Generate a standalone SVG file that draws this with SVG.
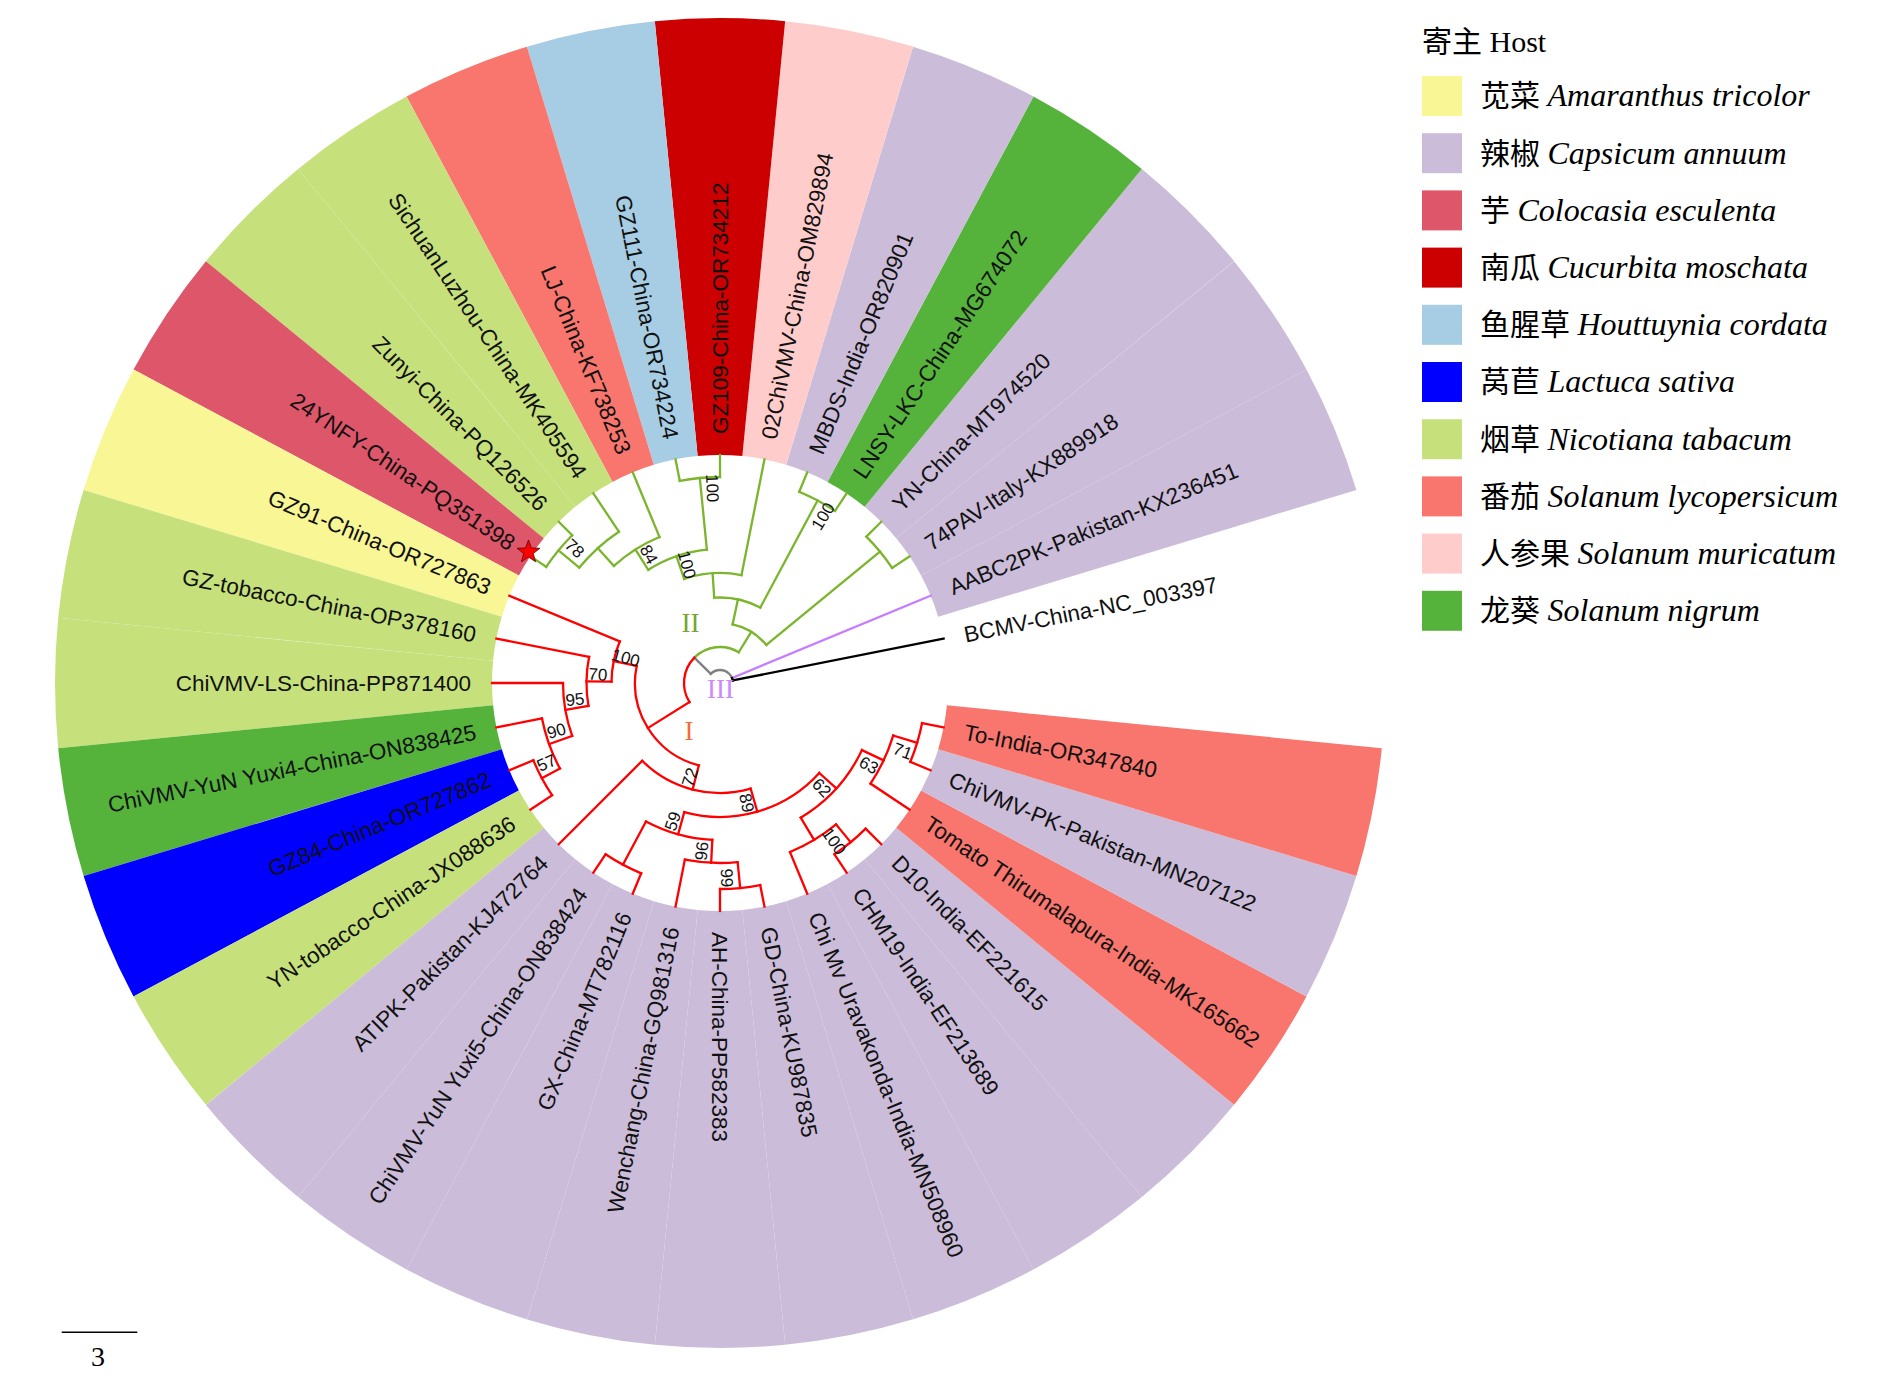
<svg xmlns="http://www.w3.org/2000/svg" width="1890" height="1382" viewBox="0 0 1890 1382">
<style>
.br{fill:none;stroke-width:2.3;stroke-linecap:square}
.g{stroke:#7AB52C}
.r{stroke:#FF0000}
.gy{stroke:#808080}
.pu{stroke:#C77CFF}
.bk{stroke:#000000}
.w{fill:none;stroke-width:437}
.lab{font-family:"Liberation Sans",Arial,sans-serif;font-size:22.5px;fill:#111}
.e{text-anchor:end}
.bs{font-family:"Liberation Sans",Arial,sans-serif;font-size:17px;fill:#111;text-anchor:middle}
.lg{font-family:"Liberation Serif","Noto Sans CJK SC",serif;font-size:30px;fill:#000}
.it{font-style:italic;font-size:32px}
.cl{font-family:"Liberation Serif",serif;font-size:27px;text-anchor:middle}
.cY{stroke:#F8F695}.cL{stroke:#CBBCD9}.cR{stroke:#DE566A}.cD{stroke:#CC0000}.cB{stroke:#A6CDE3}
.cU{stroke:#0000FF}.cG{stroke:#C6E17C}.cS{stroke:#F8766D}.cP{stroke:#FFCCCC}.cN{stroke:#55B33B}
</style>
<rect width="1890" height="1382" fill="#FFFFFF"/>

<g id="leaves" transform="translate(720,683)">
<g id="leaf-BCMV"><text class="lab" dy="0.36em" transform="rotate(348.75) translate(249,0)">BCMV-China-NC_003397</text></g>
<g id="leaf-AABC2PK"><circle class="w cL" r="446.5" pathLength="360" stroke-dasharray="11.25 348.75" transform="rotate(331.875)"/><text class="lab" dy="0.36em" transform="rotate(337.5) translate(249,0)">AABC2PK-Pakistan-KX236451</text></g>
<g id="leaf-74PAV"><circle class="w cL" r="446.5" pathLength="360" stroke-dasharray="11.25 348.75" transform="rotate(320.625)"/><text class="lab" dy="0.36em" transform="rotate(326.25) translate(249,0)">74PAV-Italy-KX889918</text></g>
<g id="leaf-YN"><circle class="w cL" r="446.5" pathLength="360" stroke-dasharray="11.25 348.75" transform="rotate(309.375)"/><text class="lab" dy="0.36em" transform="rotate(315) translate(249,0)">YN-China-MT974520</text></g>
<g id="leaf-LNSY"><circle class="w cN" r="446.5" pathLength="360" stroke-dasharray="11.25 348.75" transform="rotate(298.125)"/><text class="lab" dy="0.36em" transform="rotate(303.75) translate(249,0)">LNSY-LKC-China-MG674072</text></g>
<g id="leaf-MBDS"><circle class="w cL" r="446.5" pathLength="360" stroke-dasharray="11.25 348.75" transform="rotate(286.875)"/><text class="lab" dy="0.36em" transform="rotate(292.5) translate(249,0)">MBDS-India-OR820901</text></g>
<g id="leaf-02ChiVMV"><circle class="w cP" r="446.5" pathLength="360" stroke-dasharray="11.25 348.75" transform="rotate(275.625)"/><text class="lab" dy="0.36em" transform="rotate(281.25) translate(249,0)">02ChiVMV-China-OM829894</text></g>
<g id="leaf-GZ109"><circle class="w cD" r="446.5" pathLength="360" stroke-dasharray="11.25 348.75" transform="rotate(264.375)"/><text class="lab" dy="0.36em" transform="rotate(270) translate(249,0)">GZ109-China-OR734212</text></g>
<g id="leaf-GZ111"><circle class="w cB" r="446.5" pathLength="360" stroke-dasharray="11.25 348.75" transform="rotate(253.125)"/><text class="lab e" dy="0.36em" transform="rotate(258.75) translate(249,0) rotate(180)">GZ111-China-OR734224</text></g>
<g id="leaf-LJ"><circle class="w cS" r="446.5" pathLength="360" stroke-dasharray="11.25 348.75" transform="rotate(241.875)"/><text class="lab e" dy="0.36em" transform="rotate(247.5) translate(249,0) rotate(180)">LJ-China-KF738253</text></g>
<g id="leaf-SichuanLuzhou"><circle class="w cG" r="446.5" pathLength="360" stroke-dasharray="11.25 348.75" transform="rotate(230.625)"/><text class="lab e" dy="0.36em" transform="rotate(236.25) translate(249,0) rotate(180)">SichuanLuzhou-China-MK405594</text></g>
<g id="leaf-Zunyi"><circle class="w cG" r="446.5" pathLength="360" stroke-dasharray="11.25 348.75" transform="rotate(219.375)"/><text class="lab e" dy="0.36em" transform="rotate(225) translate(249,0) rotate(180)">Zunyi-China-PQ126526</text></g>
<g id="leaf-24YNFY"><circle class="w cR" r="446.5" pathLength="360" stroke-dasharray="11.25 348.75" transform="rotate(208.125)"/><text class="lab e" dy="0.36em" transform="rotate(213.75) translate(249,0) rotate(180)">24YNFY-China-PQ351398</text></g>
<g id="leaf-GZ91"><circle class="w cY" r="446.5" pathLength="360" stroke-dasharray="11.25 348.75" transform="rotate(196.875)"/><text class="lab e" dy="0.36em" transform="rotate(202.5) translate(249,0) rotate(180)">GZ91-China-OR727863</text></g>
<g id="leaf-GZ-tobacco"><circle class="w cG" r="446.5" pathLength="360" stroke-dasharray="11.25 348.75" transform="rotate(185.625)"/><text class="lab e" dy="0.36em" transform="rotate(191.25) translate(249,0) rotate(180)">GZ-tobacco-China-OP378160</text></g>
<g id="leaf-ChiVMV-LS"><circle class="w cG" r="446.5" pathLength="360" stroke-dasharray="11.25 348.75" transform="rotate(174.375)"/><text class="lab e" dy="0.36em" transform="rotate(180) translate(249,0) rotate(180)">ChiVMV-LS-China-PP871400</text></g>
<g id="leaf-Yuxi4"><circle class="w cN" r="446.5" pathLength="360" stroke-dasharray="11.25 348.75" transform="rotate(163.125)"/><text class="lab e" dy="0.36em" transform="rotate(168.75) translate(249,0) rotate(180)">ChiVMV-YuN Yuxi4-China-ON838425</text></g>
<g id="leaf-GZ84"><circle class="w cU" r="446.5" pathLength="360" stroke-dasharray="11.25 348.75" transform="rotate(151.875)"/><text class="lab e" dy="0.36em" transform="rotate(157.5) translate(249,0) rotate(180)">GZ84-China-OR727862</text></g>
<g id="leaf-YN-tobacco"><circle class="w cG" r="446.5" pathLength="360" stroke-dasharray="11.25 348.75" transform="rotate(140.625)"/><text class="lab e" dy="0.36em" transform="rotate(146.25) translate(249,0) rotate(180)">YN-tobacco-China-JX088636</text></g>
<g id="leaf-ATIPK"><circle class="w cL" r="446.5" pathLength="360" stroke-dasharray="11.25 348.75" transform="rotate(129.375)"/><text class="lab e" dy="0.36em" transform="rotate(135) translate(249,0) rotate(180)">ATIPK-Pakistan-KJ472764</text></g>
<g id="leaf-Yuxi5"><circle class="w cL" r="446.5" pathLength="360" stroke-dasharray="11.25 348.75" transform="rotate(118.125)"/><text class="lab e" dy="0.36em" transform="rotate(123.75) translate(249,0) rotate(180)">ChiVMV-YuN Yuxi5-China-ON838424</text></g>
<g id="leaf-GX"><circle class="w cL" r="446.5" pathLength="360" stroke-dasharray="11.25 348.75" transform="rotate(106.875)"/><text class="lab e" dy="0.36em" transform="rotate(112.5) translate(249,0) rotate(180)">GX-China-MT782116</text></g>
<g id="leaf-Wenchang"><circle class="w cL" r="446.5" pathLength="360" stroke-dasharray="11.25 348.75" transform="rotate(95.625)"/><text class="lab e" dy="0.36em" transform="rotate(101.25) translate(249,0) rotate(180)">Wenchang-China-GQ981316</text></g>
<g id="leaf-AH"><circle class="w cL" r="446.5" pathLength="360" stroke-dasharray="11.25 348.75" transform="rotate(84.375)"/><text class="lab" dy="0.36em" transform="rotate(90) translate(249,0)">AH-China-PP582383</text></g>
<g id="leaf-GD"><circle class="w cL" r="446.5" pathLength="360" stroke-dasharray="11.25 348.75" transform="rotate(73.125)"/><text class="lab" dy="0.36em" transform="rotate(78.75) translate(249,0)">GD-China-KU987835</text></g>
<g id="leaf-Uravakonda"><circle class="w cL" r="446.5" pathLength="360" stroke-dasharray="11.25 348.75" transform="rotate(61.875)"/><text class="lab" dy="0.36em" transform="rotate(67.5) translate(249,0)">Chi Mv Uravakonda-India-MN508960</text></g>
<g id="leaf-CHM19"><circle class="w cL" r="446.5" pathLength="360" stroke-dasharray="11.25 348.75" transform="rotate(50.625)"/><text class="lab" dy="0.36em" transform="rotate(56.25) translate(249,0)">CHM19-India-EF213689</text></g>
<g id="leaf-D10"><circle class="w cL" r="446.5" pathLength="360" stroke-dasharray="11.25 348.75" transform="rotate(39.375)"/><text class="lab" dy="0.36em" transform="rotate(45) translate(249,0)">D10-India-EF221615</text></g>
<g id="leaf-TomatoT"><circle class="w cS" r="446.5" pathLength="360" stroke-dasharray="11.25 348.75" transform="rotate(28.125)"/><text class="lab" dy="0.36em" transform="rotate(33.75) translate(249,0)">Tomato Thirumalapura-India-MK165662</text></g>
<g id="leaf-ChiVMV-PK"><circle class="w cL" r="446.5" pathLength="360" stroke-dasharray="11.25 348.75" transform="rotate(16.875)"/><text class="lab" dy="0.36em" transform="rotate(22.5) translate(249,0)">ChiVMV-PK-Pakistan-MN207122</text></g>
<g id="leaf-To-India"><circle class="w cS" r="446.5" pathLength="360" stroke-dasharray="11.25 348.75" transform="rotate(5.625)"/><text class="lab" dy="0.36em" transform="rotate(11.25) translate(249,0)">To-India-OR347840</text></g>
</g>

<g id="connectors" transform="translate(720,683)">
<line class="br gy" x1="13" x2="36" transform="rotate(224.69)"/>
<circle class="br gy" r="13" pathLength="360" stroke-dasharray="112.81 360" transform="rotate(224.69)"/>
<line class="br pu" x1="13" x2="228" transform="rotate(337.5)"/>
<circle class="br bk" r="13" pathLength="360" stroke-dasharray="11.25 360" transform="rotate(337.5)"/>
<line class="br bk" x1="13" x2="228" transform="rotate(348.75)"/>
<circle class="br g" r="36" pathLength="360" stroke-dasharray="76.687 360" transform="rotate(224.69)"/>
<line class="br g" x1="36" x2="60" transform="rotate(301.377)"/>
<circle class="br g" r="60" pathLength="360" stroke-dasharray="38.496 360" transform="rotate(282.129)"/>
<line class="br g" x1="60" x2="207" transform="rotate(320.625)"/>
<circle class="br g" r="207" pathLength="360" stroke-dasharray="11.25 360" transform="rotate(315)"/>
<line class="br g" x1="207" x2="228" transform="rotate(326.25)"/>
<line class="br g" x1="207" x2="228" transform="rotate(315)"/>
<line class="br g" x1="60" x2="85.5" transform="rotate(282.129)"/>
<circle class="br g" r="85.5" pathLength="360" stroke-dasharray="31.992 360" transform="rotate(266.133)"/>
<line class="br g" x1="85.5" x2="207" transform="rotate(298.125)"/>
<circle class="br g" r="207" pathLength="360" stroke-dasharray="11.25 360" transform="rotate(292.5)"/>
<line class="br g" x1="207" x2="228" transform="rotate(303.75)"/>
<line class="br g" x1="207" x2="228" transform="rotate(292.5)"/>
<line class="br g" x1="85.5" x2="110" transform="rotate(266.133)"/>
<circle class="br g" r="110" pathLength="360" stroke-dasharray="30.234 360" transform="rotate(251.016)"/>
<line class="br g" x1="110" x2="228" transform="rotate(281.25)"/>
<line class="br g" x1="110" x2="134" transform="rotate(251.016)"/>
<circle class="br g" r="134" pathLength="360" stroke-dasharray="26.719 360" transform="rotate(237.656)"/>
<line class="br g" x1="134" x2="206" transform="rotate(264.375)"/>
<circle class="br g" r="206" pathLength="360" stroke-dasharray="11.25 360" transform="rotate(258.75)"/>
<line class="br g" x1="206" x2="228" transform="rotate(270)"/>
<line class="br g" x1="206" x2="228" transform="rotate(258.75)"/>
<line class="br g" x1="134" x2="158" transform="rotate(237.656)"/>
<circle class="br g" r="158" pathLength="360" stroke-dasharray="19.688 360" transform="rotate(227.813)"/>
<line class="br g" x1="158" x2="228" transform="rotate(247.5)"/>
<line class="br g" x1="158" x2="182" transform="rotate(227.813)"/>
<circle class="br g" r="182" pathLength="360" stroke-dasharray="16.875 360" transform="rotate(219.375)"/>
<line class="br g" x1="182" x2="228" transform="rotate(236.25)"/>
<line class="br g" x1="182" x2="209" transform="rotate(219.375)"/>
<circle class="br g" r="209" pathLength="360" stroke-dasharray="11.25 360" transform="rotate(213.75)"/>
<line class="br g" x1="209" x2="228" transform="rotate(225)"/>
<line class="br g" x1="209" x2="228" transform="rotate(213.75)"/>
<circle class="br r" r="36" pathLength="360" stroke-dasharray="76.682 360" transform="rotate(148.008)"/>
<line class="br r" x1="36" x2="85" transform="rotate(148.008)"/>
<circle class="br r" r="85" pathLength="360" stroke-dasharray="87.188 360" transform="rotate(104.414)"/>
<line class="br r" x1="85" x2="108.5" transform="rotate(191.602)"/>
<circle class="br r" r="108.5" pathLength="360" stroke-dasharray="21.797 360" transform="rotate(180.703)"/>
<line class="br r" x1="108.5" x2="228" transform="rotate(202.5)"/>
<line class="br r" x1="108.5" x2="133.5" transform="rotate(180.703)"/>
<circle class="br r" r="133.5" pathLength="360" stroke-dasharray="21.094 360" transform="rotate(170.156)"/>
<line class="br r" x1="133.5" x2="228" transform="rotate(191.25)"/>
<line class="br r" x1="133.5" x2="157" transform="rotate(170.156)"/>
<circle class="br r" r="157" pathLength="360" stroke-dasharray="19.688 360" transform="rotate(160.313)"/>
<line class="br r" x1="157" x2="228" transform="rotate(180)"/>
<line class="br r" x1="157" x2="181.5" transform="rotate(160.313)"/>
<circle class="br r" r="181.5" pathLength="360" stroke-dasharray="16.875 360" transform="rotate(151.875)"/>
<line class="br r" x1="181.5" x2="228" transform="rotate(168.75)"/>
<line class="br r" x1="181.5" x2="202" transform="rotate(151.875)"/>
<circle class="br r" r="202" pathLength="360" stroke-dasharray="11.25 360" transform="rotate(146.25)"/>
<line class="br r" x1="202" x2="228" transform="rotate(157.5)"/>
<line class="br r" x1="202" x2="228" transform="rotate(146.25)"/>
<line class="br r" x1="85" x2="110" transform="rotate(104.414)"/>
<circle class="br r" r="110" pathLength="360" stroke-dasharray="61.172 360" transform="rotate(73.828)"/>
<line class="br r" x1="110" x2="228" transform="rotate(135)"/>
<line class="br r" x1="110" x2="134" transform="rotate(73.828)"/>
<circle class="br r" r="134" pathLength="360" stroke-dasharray="63.281 360" transform="rotate(42.188)"/>
<line class="br r" x1="134" x2="157" transform="rotate(105.469)"/>
<circle class="br r" r="157" pathLength="360" stroke-dasharray="25.313 360" transform="rotate(92.813)"/>
<line class="br r" x1="157" x2="206" transform="rotate(118.125)"/>
<circle class="br r" r="206" pathLength="360" stroke-dasharray="11.25 360" transform="rotate(112.5)"/>
<line class="br r" x1="206" x2="228" transform="rotate(123.75)"/>
<line class="br r" x1="206" x2="228" transform="rotate(112.5)"/>
<line class="br r" x1="157" x2="180" transform="rotate(92.813)"/>
<circle class="br r" r="180" pathLength="360" stroke-dasharray="16.875 360" transform="rotate(84.375)"/>
<line class="br r" x1="180" x2="228" transform="rotate(101.25)"/>
<line class="br r" x1="180" x2="206" transform="rotate(84.375)"/>
<circle class="br r" r="206" pathLength="360" stroke-dasharray="11.25 360" transform="rotate(78.75)"/>
<line class="br r" x1="206" x2="228" transform="rotate(90)"/>
<line class="br r" x1="206" x2="228" transform="rotate(78.75)"/>
<line class="br r" x1="134" x2="157" transform="rotate(42.188)"/>
<circle class="br r" r="157" pathLength="360" stroke-dasharray="33.75 360" transform="rotate(25.313)"/>
<line class="br r" x1="157" x2="183" transform="rotate(59.063)"/>
<circle class="br r" r="183" pathLength="360" stroke-dasharray="16.875 360" transform="rotate(50.625)"/>
<line class="br r" x1="183" x2="228" transform="rotate(67.5)"/>
<line class="br r" x1="183" x2="206" transform="rotate(50.625)"/>
<circle class="br r" r="206" pathLength="360" stroke-dasharray="11.25 360" transform="rotate(45)"/>
<line class="br r" x1="206" x2="228" transform="rotate(56.25)"/>
<line class="br r" x1="206" x2="228" transform="rotate(45)"/>
<line class="br r" x1="157" x2="181" transform="rotate(25.313)"/>
<circle class="br r" r="181" pathLength="360" stroke-dasharray="16.875 360" transform="rotate(16.875)"/>
<line class="br r" x1="181" x2="228" transform="rotate(33.75)"/>
<line class="br r" x1="181" x2="206" transform="rotate(16.875)"/>
<circle class="br r" r="206" pathLength="360" stroke-dasharray="11.25 360" transform="rotate(11.25)"/>
<line class="br r" x1="206" x2="228" transform="rotate(22.5)"/>
<line class="br r" x1="206" x2="228" transform="rotate(11.25)"/>
</g>

<g id="internal-nodes" transform="translate(720,683)">
<g id="node-GZ"><text class="bs" dy="0.36em" transform="rotate(267.875) translate(195,0) rotate(180)">100</text></g>
<g id="node-Z24"><text class="bs" dy="0.36em" transform="rotate(222.875) translate(198,0) rotate(180)">78</text></g>
<g id="node-LJn"><text class="bs" dy="0.36em" transform="rotate(241.156) translate(147,0) rotate(180)">84</text></g>
<g id="node-Nb"><text class="bs" dy="0.36em" transform="rotate(254.516) translate(123,0) rotate(180)">100</text></g>
<g id="node-LM"><text class="bs" dy="0.36em" transform="rotate(301.625) translate(196,0)">100</text></g>
<g id="node-N100"><text class="bs" dy="0.36em" transform="rotate(195.102) translate(97.5,0) rotate(180)">100</text></g>
<g id="node-N70"><text class="bs" dy="0.36em" transform="rotate(184.203) translate(122.5,0) rotate(180)">70</text></g>
<g id="node-N95"><text class="bs" dy="0.36em" transform="rotate(173.656) translate(146,0) rotate(180)">95</text></g>
<g id="node-N90"><text class="bs" dy="0.36em" transform="rotate(163.813) translate(170.5,0) rotate(180)">90</text></g>
<g id="node-N57"><text class="bs" dy="0.36em" transform="rotate(155.375) translate(191,0) rotate(180)">57</text></g>
<g id="node-N72"><text class="bs" dy="0.36em" transform="rotate(107.914) translate(99,0) rotate(180)">72</text></g>
<g id="node-N89"><text class="bs" dy="0.36em" transform="rotate(77.328) translate(123,0)">89</text></g>
<g id="node-N59"><text class="bs" dy="0.36em" transform="rotate(108.969) translate(146,0) rotate(180)">59</text></g>
<g id="node-N96"><text class="bs" dy="0.36em" transform="rotate(96.313) translate(169,0) rotate(180)">96</text></g>
<g id="node-N99"><text class="bs" dy="0.36em" transform="rotate(87.875) translate(195,0)">99</text></g>
<g id="node-N62"><text class="bs" dy="0.36em" transform="rotate(45.688) translate(146,0)">62</text></g>
<g id="node-N63"><text class="bs" dy="0.36em" transform="rotate(28.813) translate(170,0)">63</text></g>
<g id="node-N71"><text class="bs" dy="0.36em" transform="rotate(20.375) translate(195,0)">71</text></g>
<g id="node-Ny"><text class="bs" dy="0.36em" transform="rotate(54.125) translate(195,0)">100</text></g>
</g>

<g id="clade-labels">
<text class="cl" x="690.5" y="632" fill="#74A630">II</text>
<text class="cl" x="720.5" y="698" fill="#CC88FF" font-size="28">III</text>
<text class="cl" x="689" y="740" fill="#F26B3A">I</text>
</g>

<g id="star" transform="translate(528.5,552)">
<polygon points="0,-12 2.94,-4.05 11.41,-3.71 4.76,1.55 7.05,9.71 0,5 -7.05,9.71 -4.76,1.55 -11.41,-3.71 -2.94,-4.05" fill="#FF0000" stroke="#5A0000" stroke-width="0.8"/>
</g>

<g id="legend">
<text class="lg" x="1422" y="52" font-size="29">寄主 Host</text>
<rect x="1422" y="76" width="40" height="40" fill="#F8F695"/>
<text class="lg" x="1480" y="106.3">苋菜 <tspan class="it">Amaranthus tricolor</tspan></text>
<rect x="1422" y="133.2" width="40" height="40" fill="#CBBCD9"/>
<text class="lg" x="1480" y="163.5">辣椒 <tspan class="it">Capsicum annuum</tspan></text>
<rect x="1422" y="190.4" width="40" height="40" fill="#DE566A"/>
<text class="lg" x="1480" y="220.7">芋 <tspan class="it">Colocasia esculenta</tspan></text>
<rect x="1422" y="247.6" width="40" height="40" fill="#CC0000"/>
<text class="lg" x="1480" y="277.9">南瓜 <tspan class="it">Cucurbita moschata</tspan></text>
<rect x="1422" y="304.8" width="40" height="40" fill="#A6CDE3"/>
<text class="lg" x="1480" y="335.1">鱼腥草 <tspan class="it">Houttuynia cordata</tspan></text>
<rect x="1422" y="362" width="40" height="40" fill="#0000FF"/>
<text class="lg" x="1480" y="392.3">莴苣 <tspan class="it">Lactuca sativa</tspan></text>
<rect x="1422" y="419.2" width="40" height="40" fill="#C6E17C"/>
<text class="lg" x="1480" y="449.5">烟草 <tspan class="it">Nicotiana tabacum</tspan></text>
<rect x="1422" y="476.4" width="40" height="40" fill="#F8766D"/>
<text class="lg" x="1480" y="506.7">番茄 <tspan class="it">Solanum lycopersicum</tspan></text>
<rect x="1422" y="533.6" width="40" height="40" fill="#FFCCCC"/>
<text class="lg" x="1480" y="563.9">人参果 <tspan class="it">Solanum muricatum</tspan></text>
<rect x="1422" y="590.8" width="40" height="40" fill="#55B33B"/>
<text class="lg" x="1480" y="621.1">龙葵 <tspan class="it">Solanum nigrum</tspan></text>
</g>

<g id="scale-bar">
<line x1="61.7" y1="1332.3" x2="137.3" y2="1332.3" stroke="#000" stroke-width="1.5"/>
<text x="98" y="1366" font-family="Liberation Serif,serif" font-size="28" text-anchor="middle" fill="#000">3</text>
</g>
</svg>
